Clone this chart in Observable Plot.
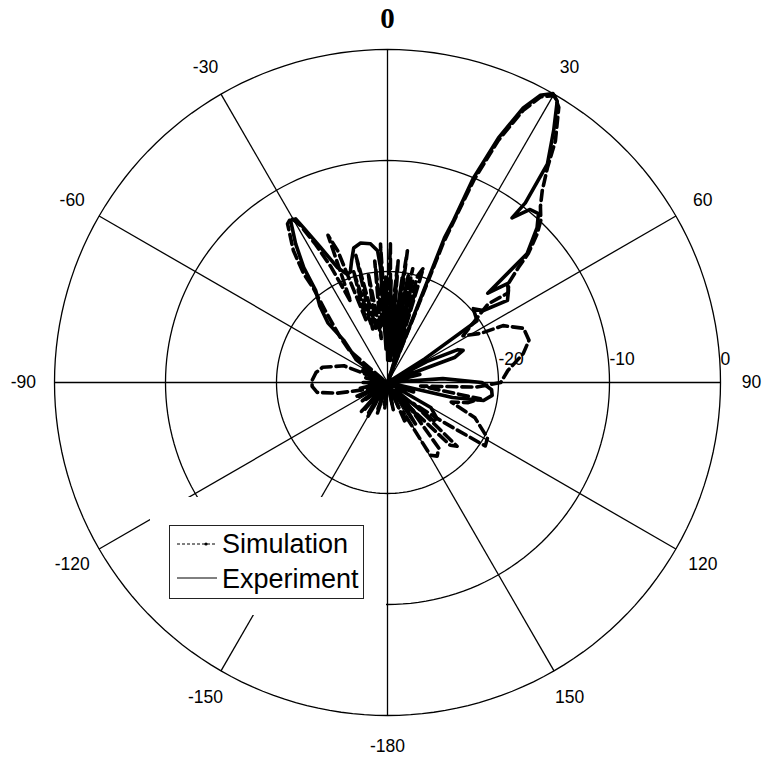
<!DOCTYPE html>
<html>
<head>
<meta charset="utf-8">
<script src="https://cdn.jsdelivr.net/npm/d3@7"></script>
<script src="https://cdn.jsdelivr.net/npm/@observablehq/plot@0.6"></script>
<style>
  html, body { margin: 0; padding: 0; background: #fff; }
  #chart { position: relative; width: 766px; height: 761px; }
</style>
</head>
<body>
<div id="chart"></div>
<script>
// ---- Data (angle in degrees, level in dB) ----
const expAngles = [-180,-172,-166,-160,-154,-148,-143,-138,-132,-126,-120,-114,-108,-102,-96,-90,-84,-78,-72,-66,-60,-54,-50,-46,-45,-41.5,-38,-36.1,-33.5,-30.9,-29.3,-28.5,-26.4,-23.5,-20.5,-18.6,-16.5,-14.1,-10.9,-7,-4.3,-3.5,-2.5,-1,0.5,2,3.5,5,6.5,8,9.5,11,12.5,14,15.5,17,18.5,20.5,21.5,22.2,22.8,24.4,26.3,28,29.8,31.1,33.4,36.2,37.5,37.1,39.5,41.8,44,47.3,48.3,50.5,52.7,55.6,53.1,49.3,55.4,57.5,59,62,65,67,69.5,71.5,76,80,86,90,94,97,100.6,103,106,110,115,120,126,129.6,133,138,142,146,150,156,162,168,174,180];
const expDb = [-30,-28,-30,-27.5,-30,-26.8,-29,-26.5,-30,-27.2,-29.5,-27,-30,-27.5,-29.5,-27.8,-30,-28,-30,-27.5,-29,-26.5,-25.8,-24.5,-22.4,-20.8,-19.5,-17.2,-15,-13,-13.1,-14.1,-16.4,-18.7,-19.6,-19.5,-18.6,-17.5,-17.2,-17.4,-18.1,-19.6,-27,-20.5,-28,-20.8,-27.5,-20.5,-28,-20.5,-27,-20.2,-27.5,-20.6,-28,-21,-29,-30,-16,-14.2,-10,-5.8,-2.4,-0.7,0,-0.4,-2.8,-5.6,-9.6,-11.4,-9.8,-9.6,-10.6,-12.9,-17.9,-16,-16.3,-16.9,-19.2,-19.8,-20.2,-26,-30,-26,-23,-22.6,-23.5,-30,-27,-30,-25,-21.5,-20.6,-20.5,-21.2,-24,-30,-27.5,-30,-25.5,-24.5,-24.6,-29,-26,-28,-25.5,-30,-27.5,-30,-28,-30,-30];

const simAngles = [-180,-174,-168,-162,-156,-150,-145,-140,-134,-128,-122,-116,-110,-106,-102,-98,-93,-88.5,-82,-76.8,-69,-65,-60,-55,-50,-46,-41,-38.2,-37.6,-35.5,-32.2,-30.4,-29,-27.5,-26,-24.5,-22,-20.7,-19,-17,-15.5,-14,-12,-10,-8,-6,-4.5,-2.9,-1,1.2,3,5,7,8.6,10.5,12.5,14.5,15.8,17.4,19,20.6,21.8,22.5,23.1,24.6,26.5,28.2,30.2,31.9,34.8,36.7,38.9,41,43.4,45.2,47.5,48.7,50.5,53.4,52,55,58.3,62.2,63.8,68.3,73.4,78,84.3,90,93,96,100,104,107,112,119,123,125.5,129,132.5,135,138,142,146,149.5,152,156,162,168,174,180];
const simDb = [-30,-27.5,-30,-27,-29.5,-26.5,-30,-26.8,-29,-27.5,-30,-27,-29.5,-27.5,-25.4,-23.6,-23.2,-23.2,-23.5,-24,-25.8,-30,-27.5,-29.5,-25.5,-24,-21.5,-19.2,-17.6,-15.4,-13.1,-12.8,-13.8,-16,-18.5,-22,-15.7,-17.3,-24,-19.5,-25,-18.2,-25,-20,-26,-19,-25,-17.5,-26,-17.5,-25,-19,-26,-18,-25,-19.5,-27,-20,-19.2,-27,-30,-16.5,-13.5,-10.2,-6,-2.6,-0.8,-0.1,-0.8,-3.5,-5.9,-7.8,-9,-9.9,-11,-12.8,-14.3,-15.8,-16.5,-18.5,-20.5,-22,-20.5,-18.4,-16.8,-16.7,-17.5,-19.1,-19.8,-22,-27,-21.5,-22.5,-24,-21.5,-19.7,-19.5,-24,-27,-21.5,-22,-27,-22.5,-22,-22.4,-27,-26,-30,-27.5,-30,-30];

const ringLevels = [-20, -10, 0];
const ringLabels = ["-20", "-10", "0"];
const spokeAngles = [0, 30, 60, 90, 120, 150, 180, 210, 240, 270, 300, 330];
const angleLabelAngles = [30, 60, 90, 120, 150, 180, -150, -120, -90, -60, -30];
const angleLabels = ["30", "60", "90", "120", "150", "-180", "-150", "-120", "-90", "-60", "-30"];
const topLabel = "0";
const seriesNames = ["Simulation", "Experiment"];

// ---- helpers ----
const MIN_DB = -30;
const rad = a => a * Math.PI / 180;
function toXY(a, db) {
  const r = Math.max(0, db - MIN_DB);
  return { x: r * Math.sin(rad(a)), y: r * Math.cos(rad(a)) };
}
const expPts = expAngles.map((a, i) => toXY(a, expDb[i]));
const simPts = simAngles.map((a, i) => toXY(a, simDb[i]));

const ringPts = [];
ringLevels.forEach(lv => {
  const r = lv - MIN_DB;
  for (let a = 0; a <= 360; a += 2) ringPts.push({ ring: lv, x: r * Math.sin(rad(a)), y: r * Math.cos(rad(a)) });
});
const R = 0 - MIN_DB;
const labelR = 32.8;
const sans = "'Liberation Sans', Arial, sans-serif";

const plot = Plot.plot({
  width: 766,
  height: 761,
  marginLeft: 54,
  marginRight: 46,
  marginTop: 49,
  marginBottom: 46,
  x: { domain: [-R, R], axis: null },
  y: { domain: [-R, R], axis: null },
  style: { background: "white", overflow: "visible" },
  marks: [
    Plot.line(ringPts, { x: "x", y: "y", z: "ring", stroke: "black", strokeWidth: 1.3 }),
    Plot.link(spokeAngles, {
      x1: () => 0, y1: () => 0,
      x2: a => R * Math.sin(rad(a)), y2: a => R * Math.cos(rad(a)),
      stroke: "black", strokeWidth: 1.3
    }),
    Plot.line(simPts, { x: "x", y: "y", stroke: "black", strokeWidth: 3.6, strokeDasharray: "10,5", strokeLinejoin: "round" }),
    Plot.line(expPts, { x: "x", y: "y", stroke: "black", strokeWidth: 3.6, strokeLinejoin: "round" }),
    Plot.text(ringLevels, {
      x: lv => lv - MIN_DB, y: () => 0, text: (lv, i) => ringLabels[i],
      textAnchor: "start", dx: 0, dy: -23, fontSize: 17.5, fontFamily: sans, fill: "black"
    }),
    Plot.text(angleLabelAngles, {
      x: a => labelR * Math.sin(rad(a)), y: a => labelR * Math.cos(rad(a)),
      text: (a, i) => angleLabels[i],
      fontSize: 17.5, fontFamily: sans, fill: "black",
      fontWeight: a => (a === 30 ? "bold" : "normal")
    }),
    Plot.text([0], {
      x: a => labelR * Math.sin(rad(a)), y: a => labelR * Math.cos(rad(a)),
      text: () => topLabel, fontSize: 29, fontFamily: "'Liberation Serif', 'Times New Roman', serif",
      fontWeight: "bold", fill: "black"
    })
  ]
});

document.getElementById("chart").appendChild(plot);

// ---- overlay: blanked area and legend (as in the reference) ----
const svg = d3.select(plot);
const g = svg.append("g").attr("text-anchor", "start");
g.append("rect").attr("x", 150).attr("y", 497).attr("width", 236).attr("height", 118).attr("fill", "white");
g.append("rect").attr("x", 169.5).attr("y", 525.5).attr("width", 194).attr("height", 73)
  .attr("fill", "white").attr("stroke", "#222").attr("stroke-width", 1);
g.append("line").attr("x1", 177).attr("x2", 217).attr("y1", 544).attr("y2", 544)
  .attr("stroke", "black").attr("stroke-width", 1).attr("stroke-dasharray", "3,2");
g.append("circle").attr("cx", 206).attr("cy", 544).attr("r", 1.6).attr("fill", "black");
g.append("line").attr("x1", 177).attr("x2", 217).attr("y1", 578).attr("y2", 578)
  .attr("stroke", "black").attr("stroke-width", 1);
g.append("text").attr("x", 222).attr("y", 553).attr("text-anchor", "start").text(seriesNames[0])
  .attr("font-family", sans).attr("font-size", 27).attr("fill", "black");
g.append("text").attr("x", 222).attr("y", 588).attr("text-anchor", "start").text(seriesNames[1])
  .attr("font-family", sans).attr("font-size", 27).attr("fill", "black");
</script>
</body>
</html>
